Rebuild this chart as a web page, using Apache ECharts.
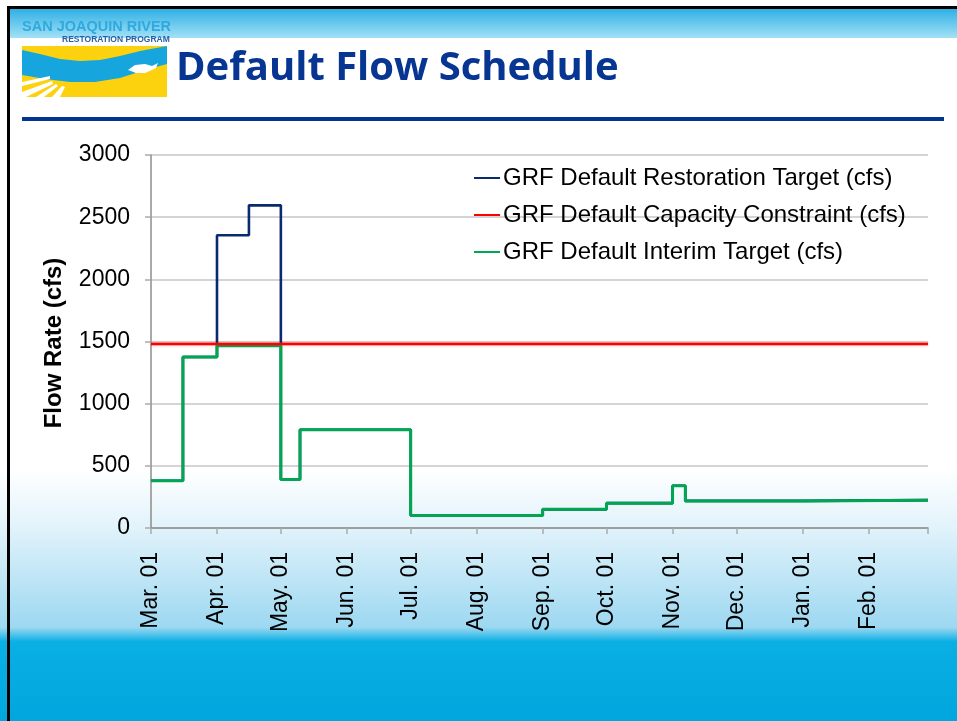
<!DOCTYPE html>
<html>
<head>
<meta charset="utf-8">
<script src="https://cdn.jsdelivr.net/npm/echarts@6/dist/echarts.min.js"></script>
<style>
  html, body { margin: 0; padding: 0; }
  #main { width: 957px; height: 721px; }
</style>
</head>
<body>
<div id="main"></div>
<script>
// step points: each value holds until the next date
var restorationDates = ['2009-03-01', '2009-03-16', '2009-04-01', '2009-04-16', '2009-05-01', '2009-05-10', '2009-07-01', '2009-09-01', '2009-10-01', '2009-11-01', '2009-11-07', '2010-01-01', '2010-03-01']
var restorationValues = [380, 1375, 2355, 2595, 390, 790, 100, 150, 200, 340, 218, 224, 224]

var capacityDates = ['2009-03-01', '2010-03-01']
var capacityValues = [1480, 1480]

var interimDates = ['2009-03-01', '2009-03-16', '2009-04-01', '2009-05-01', '2009-05-10', '2009-07-01', '2009-09-01', '2009-10-01', '2009-11-01', '2009-11-07', '2010-01-01', '2010-03-01']
var interimValues = [380, 1375, 1465, 390, 790, 100, 150, 200, 340, 218, 224, 224]

var monthLabels = ['Jan.', 'Feb.', 'Mar.', 'Apr.', 'May.', 'Jun.', 'Jul.', 'Aug.', 'Sep.', 'Oct.', 'Nov.', 'Dec.']
var seriesNames = ['GRF Default Restoration Target (cfs)', 'GRF Default Capacity Constraint (cfs)', 'GRF Default Interim Target (cfs)']

var xMin = '2009-03-01'
var xMax = '2010-03-01'

function pairs(dates, values) {
    var out = []
    for (var i = 0; i < dates.length; i++) {
        out.push([dates[i], values[i]])
    }
    return out
}

var chart = echarts.init(document.getElementById('main'))
var font = 'Liberation Sans, Arial, sans-serif'
var maxTime = echarts.time.parse(xMax).getTime()

chart.setOption({
    animation: false,
    backgroundColor: new echarts.graphic.LinearGradient(0, 0, 0, 1, [
        {offset: 0, color: '#ffffff'},
        {offset: 0.65, color: '#ffffff'},
        {offset: 0.73, color: '#e2f3fb'},
        {offset: 0.87, color: '#9dd8f1'},
        {offset: 0.89, color: '#0aafe4'},
        {offset: 1, color: '#00a6dd'}
    ]),
    graphic: [
        // header band
        {type: 'rect', shape: {x: 10, y: 9, width: 947, height: 29}, z: -1,
            style: {fill: new echarts.graphic.LinearGradient(0, 0, 0, 1, [
                {offset: 0, color: '#30b0e4'}, {offset: 1, color: '#a2e1f6'}])}},
        {type: 'rect', shape: {x: 7, y: 6, width: 950, height: 3}, style: {fill: '#000'}},
        {type: 'rect', shape: {x: 7, y: 6, width: 3, height: 715}, style: {fill: '#000'}},
        // logo
        {type: 'text', x: 22, y: 19, style: {text: 'SAN JOAQUIN RIVER', fill: '#2fa9df',
            font: 'bold 14.5px "Liberation Sans Narrow", "Liberation Sans", sans-serif'}},
        {type: 'text', x: 62, y: 35, style: {text: 'RESTORATION PROGRAM', fill: '#2a5fa8',
            font: 'bold 8.5px "Liberation Sans Narrow", "Liberation Sans", sans-serif'}},
        {type: 'rect', shape: {x: 22, y: 46, width: 145, height: 51}, style: {fill: '#fcd20f'}},
        {type: 'polygon', shape: {points: [[22, 50], [40, 54], [60, 59], [80, 61], [100, 60], [120, 56], [140, 51], [167, 46],
            [167, 64], [145, 70], [120, 78], [95, 82], [70, 82], [45, 79], [22, 75]]}, style: {fill: '#16a6dd'}},
        {type: 'polygon', shape: {points: [[128, 70], [135, 65], [145, 64], [152, 66], [158, 63], [156, 68], [152, 70], [145, 73], [136, 73]]},
            style: {fill: '#ffffff'}},
        {type: 'polygon', shape: {points: [[22, 82], [50, 76], [50, 79], [22, 86]]}, style: {fill: '#ffffff'}},
        {type: 'polygon', shape: {points: [[22, 92], [52, 81], [53, 84], [26, 97], [22, 97]]}, style: {fill: '#ffffff'}},
        {type: 'polygon', shape: {points: [[36, 97], [56, 84], [58, 86], [44, 97]]}, style: {fill: '#ffffff'}},
        {type: 'polygon', shape: {points: [[52, 97], [62, 86], [65, 87], [60, 97]]}, style: {fill: '#ffffff'}},
        // title
        {type: 'text', x: 176, y: 49, style: {text: 'Default Flow Schedule', fill: '#073592',
            font: 'bold 40px "Open Sans", Lato, sans-serif'}},
        {type: 'rect', shape: {x: 22, y: 117, width: 922, height: 4}, style: {fill: '#003591'}},
        // y axis name
        {type: 'text', x: 54, y: 343, rotation: Math.PI / 2,
            style: {text: 'Flow Rate (cfs)', fill: '#000', font: 'bold 24px ' + font, align: 'center', verticalAlign: 'middle'}}
    ],
    grid: {left: 151, right: 29, top: 155, bottom: 193},
    legend: {
        left: 474, top: 164, orient: 'vertical', itemGap: 9, padding: 0,
        icon: 'rect', itemWidth: 26, itemHeight: 2,
        textStyle: {fontFamily: font, fontSize: 24, color: '#000', lineHeight: 28, padding: [0, 0, 0, -2]},
        data: seriesNames
    },
    xAxis: {
        type: 'time',
        min: xMin, max: xMax,
        splitNumber: 12,
        minInterval: 28 * 86400000,
        axisLine: {lineStyle: {color: '#8c8c8c', width: 1.5}},
        axisTick: {length: 6, lineStyle: {color: '#aaaaaa', width: 1.5}},
        splitLine: {show: false},
        axisLabel: {
            rotate: 90, margin: 24, color: '#000', fontFamily: font, fontSize: 23,
            formatter: function (v) {
                if (v >= maxTime) return ''
                var d = new Date(v)
                return monthLabels[d.getMonth()] + ' 01'
            }
        }
    },
    yAxis: {
        type: 'value', min: 0, max: 3000, interval: 500,
        axisLine: {show: true, lineStyle: {color: '#8c8c8c', width: 1.5}},
        axisTick: {show: true, length: 6, lineStyle: {color: '#aaaaaa', width: 1.5}},
        splitLine: {lineStyle: {color: '#c6c6c6', width: 1.5}},
        axisLabel: {margin: 21, color: '#000', fontFamily: font, fontSize: 23,
            formatter: function (v) { return String(v) }}
    },
    series: [
        {name: seriesNames[0], type: 'line', step: 'end', showSymbol: false, z: 2,
            color: '#0b2a6e', lineStyle: {width: 2.6}, data: pairs(restorationDates, restorationValues)},
        {name: seriesNames[1], type: 'line', showSymbol: false, z: 4,
            color: '#ff0000', lineStyle: {width: 2.6, shadowColor: 'rgba(255,0,0,0.35)', shadowBlur: 3},
            data: pairs(capacityDates, capacityValues)},
        {name: seriesNames[2], type: 'line', step: 'end', showSymbol: false, z: 3,
            color: '#00a651', lineStyle: {width: 3}, data: pairs(interimDates, interimValues)}
    ]
})
</script>
</body>
</html>
